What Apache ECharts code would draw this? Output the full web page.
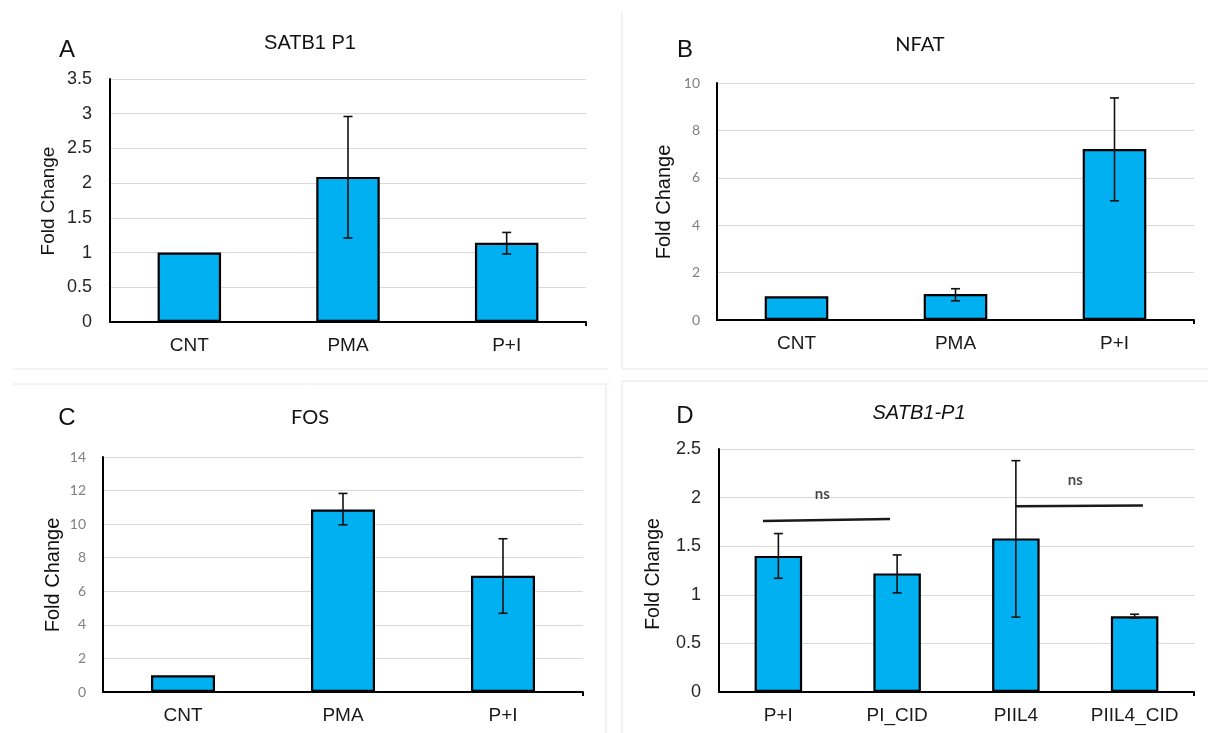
<!DOCTYPE html>
<html>
<head>
<meta charset="utf-8">
<script src="https://cdn.jsdelivr.net/npm/echarts@6/dist/echarts.min.js"></script>
<style>
html, body { margin: 0; padding: 0; background: #fff; }
#main { width: 1208px; height: 733px; }
</style>
</head>
<body>
<div id="main"></div>
<script>
var chart = echarts.init(document.getElementById('main'));

// data
var catsABC = ['CNT', 'PMA', 'P+I'];
var satbVals = [1.0, 2.09, 1.14];
var satbLo = [null, 1.21, 0.98];
var satbHi = [null, 2.96, 1.29];

var nfatVals = [1.0, 1.10, 7.21];
var nfatLo = [null, 0.81, 5.03];
var nfatHi = [null, 1.32, 9.37];

var fosVals = [1.0, 10.87, 6.92];
var fosLo = [null, 9.96, 4.69];
var fosHi = [null, 11.83, 9.13];

var catsD = ['P+I', 'PI_CID', 'PIIL4', 'PIIL4_CID'];
var dVals = [1.40, 1.22, 1.58, 0.78];
var dLo = [1.17, 1.02, 0.77, 0.76];
var dHi = [1.63, 1.41, 2.38, 0.80];

// "ns" brackets in panel D (x in category index units)
var nsLine1 = [[-0.13, 1.76], [0.94, 1.78]];
var nsLine2 = [[2.0, 1.91], [3.07, 1.92]];
var nsText = [[0.37, 2.04], [2.5, 2.18]];

// layout
var grids = [
  { left: 110, top: 79, width: 476, height: 243 },
  { left: 717, top: 83, width: 477, height: 237 },
  { left: 103, top: 457, width: 480, height: 235 },
  { left: 719, top: 449, width: 475, height: 243 }
];

var arial = '"Liberation Sans", Arial, sans-serif';
var calib = 'Lato, "Noto Sans", sans-serif';

function errData(lo, hi) {
  var out = [];
  for (var i = 0; i < lo.length; i++) {
    if (lo[i] != null) out.push([i, lo[i], hi[i]]);
  }
  return out;
}

function errRender(params, api) {
  var top = api.coord([api.value(0), api.value(2)]);
  var bot = api.coord([api.value(0), api.value(1)]);
  var cw = 4.5;
  var st = { stroke: '#111', lineWidth: 1.6 };
  return {
    type: 'group',
    children: [
      { type: 'line', shape: { x1: top[0], y1: top[1], x2: bot[0], y2: bot[1] }, style: st },
      { type: 'line', shape: { x1: top[0] - cw, y1: top[1], x2: top[0] + cw, y2: top[1] }, style: st },
      { type: 'line', shape: { x1: bot[0] - cw, y1: bot[1], x2: bot[0] + cw, y2: bot[1] }, style: st }
    ]
  };
}

function xAx(idx, cats) {
  return {
    type: 'category', gridIndex: idx, data: cats, boundaryGap: true,
    axisLine: { onZero: false, lineStyle: { color: '#000', width: 2 } },
    axisTick: { alignWithLabel: true, length: 4, lineStyle: { color: '#000', width: 2 } },
    axisLabel: { color: '#1a1a1a', fontSize: 19, fontFamily: arial, margin: 14 }
  };
}

function yAx(idx, max, step, big) {
  return {
    type: 'value', gridIndex: idx, min: 0, max: max, interval: step,
    axisLine: { show: true, onZero: false, lineStyle: { color: '#000', width: 2 } },
    axisTick: { show: false },
    splitLine: { lineStyle: { color: '#d9d9d9', width: 1 } },
    axisLabel: big
      ? { color: '#262626', fontSize: 18, fontFamily: arial, margin: 18 }
      : { color: '#808080', fontSize: 14, fontFamily: calib, margin: 17 }
  };
}

function barSeries(idx, vals) {
  return {
    type: 'bar', xAxisIndex: idx, yAxisIndex: idx, data: vals, barWidth: '40%',
    itemStyle: { color: '#00b0f0', borderColor: '#000', borderWidth: 2.2 },
    silent: true
  };
}

function errSeries(idx, lo, hi) {
  return {
    type: 'custom', xAxisIndex: idx, yAxisIndex: idx, renderItem: errRender,
    data: errData(lo, hi), z: 5, silent: true
  };
}

function txt(x, y, s, font, opts) {
  opts = opts || {};
  return {
    type: 'text', x: x, y: y, rotation: opts.rot || 0, silent: true,
    style: { text: s, font: font, fill: opts.fill || '#111', align: 'center', verticalAlign: 'middle' }
  };
}

function hline(x1, x2, y) {
  return { type: 'line', silent: true, shape: { x1: x1, y1: y, x2: x2, y2: y }, style: { stroke: '#e6e6e6', lineWidth: 1 } };
}
function vline(x, y1, y2) {
  return { type: 'line', silent: true, shape: { x1: x, y1: y1, x2: x, y2: y2 }, style: { stroke: '#e6e6e6', lineWidth: 1 } };
}

// small end tick at the right end of each x axis
var endTicks = grids.map(function (g) {
  var xr = g.left + g.width, yb = g.top + g.height;
  return { type: 'line', silent: true, shape: { x1: xr, y1: yb, x2: xr, y2: yb + 4 }, style: { stroke: '#000', lineWidth: 2 } };
});

var graphics = [
  hline(13, 607, 369), hline(13, 610, 384),
  vline(622, 12, 369), hline(622, 1208, 369),
  vline(622, 381, 733), hline(622, 1208, 381),
  vline(606, 385, 733),

  txt(67, 50, 'A', '24px ' + arial),
  txt(685, 50, 'B', '24px ' + arial),
  txt(67, 418, 'C', '24px ' + arial),
  txt(685, 416, 'D', '24px ' + arial),

  txt(310, 43, 'SATB1 P1', '20px ' + arial),
  txt(920, 45, 'NFAT', '20px ' + calib),
  txt(310, 418, 'FOS', '20px ' + calib),
  txt(919, 413, 'SATB1-P1', 'italic 20px ' + arial),

  txt(49, 201, 'Fold Change', '19px ' + arial, { rot: Math.PI / 2 }),
  txt(664, 202, 'Fold Change', '20px ' + arial, { rot: Math.PI / 2 }),
  txt(53, 575, 'Fold Change', '20px ' + arial, { rot: Math.PI / 2 }),
  txt(654, 574, 'Fold Change', '19.5px ' + arial, { rot: Math.PI / 2 })
].concat(endTicks);

var option = {
  backgroundColor: '#fff',
  animation: false,
  grid: grids,
  xAxis: [
    xAx(0, catsABC), xAx(1, catsABC), xAx(2, catsABC), xAx(3, catsD),
    // hidden numeric axis over panel D for the ns brackets
    { type: 'value', gridIndex: 3, min: -0.5, max: 3.5, show: false }
  ],
  yAxis: [
    yAx(0, 3.5, 0.5, true),
    yAx(1, 10, 2, false),
    yAx(2, 14, 2, false),
    yAx(3, 2.5, 0.5, true)
  ],
  series: [
    barSeries(0, satbVals), errSeries(0, satbLo, satbHi),
    barSeries(1, nfatVals), errSeries(1, nfatLo, nfatHi),
    barSeries(2, fosVals), errSeries(2, fosLo, fosHi),
    barSeries(3, dVals), errSeries(3, dLo, dHi),
    {
      type: 'line', xAxisIndex: 4, yAxisIndex: 3, data: nsLine1, symbol: 'none', silent: true, z: 6,
      lineStyle: { color: '#1a1a1a', width: 2.5 }
    },
    {
      type: 'line', xAxisIndex: 4, yAxisIndex: 3, data: nsLine2, symbol: 'none', silent: true, z: 6,
      lineStyle: { color: '#1a1a1a', width: 2.5 }
    },
    {
      type: 'scatter', xAxisIndex: 4, yAxisIndex: 3, data: nsText, symbolSize: 0, silent: true, z: 6,
      label: {
        show: true, position: 'inside', formatter: 'ns',
        color: '#1a1a1a', fontSize: 15, fontWeight: 'bold', fontFamily: calib
      }
    }
  ],
  graphic: graphics
};

chart.setOption(option);
</script>
</body>
</html>
